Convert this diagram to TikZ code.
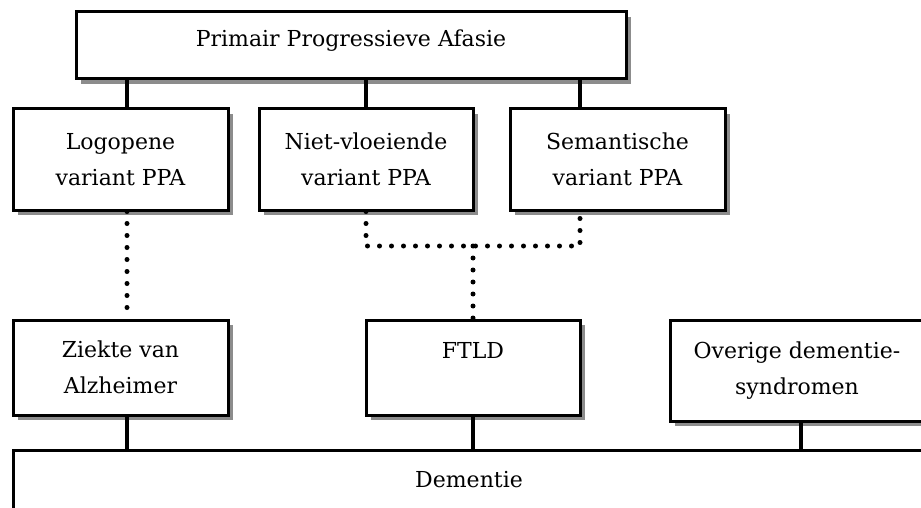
\documentclass[tikz,border=0pt]{standalone}
\usepackage{fontspec}
\setmainfont{DejaVu Serif}
\usetikzlibrary{shadows}

\begin{document}
\begin{tikzpicture}[x=1pt,y=-1pt,
  box/.style={draw,line width=3pt,fill=white,align=center,inner sep=0pt,
    drop shadow={shadow xshift=5pt,shadow yshift=-5pt,fill=black!60,opacity=.75},
    font=\fontsize{22}{36.5}\selectfont},
  link/.style={line width=4pt},
  dots/.style={line width=5pt,line cap=round,dash pattern=on 0pt off 12pt}
  ]
\useasboundingbox (0,0) rectangle (921,508);
\clip (0,0) rectangle (921,508);
\coordinate (colA) at (127,0);
\coordinate (colC) at (580,0);
\coordinate (colE) at (801,0);
\node[box,minimum width=550pt,text height=35pt,text depth=32pt] (ppa) at (351,45.5) {Primair Progressieve Afasie};
\node[box,minimum width=215pt,minimum height=101pt] (lpa) at (120.5,159.5) {Logopene\\variant PPA};
\node[box,minimum width=214pt,minimum height=101pt] (npa) at (366,159.5) {Niet-vloeiende\\variant PPA};
\node[box,minimum width=215pt,minimum height=101pt] (spa) at (617.5,159.5) {Semantische\\variant PPA};
\node[box,minimum width=215pt,minimum height=95pt] (zva) at (120.5,367.5) {Ziekte van\\Alzheimer};
\node[box,minimum width=214pt,text height=38pt,text depth=57pt] (ftld) at (473,367.5) {FTLD};
\node[box,minimum width=254pt,minimum height=101pt] (ovs) at (797,370.5) {Overige dementie-\\syndromen};
\node[box,minimum width=912pt,text height=37pt,text depth=38pt] (dem) at (469,487.5) {Dementie};
\coordinate (jn) at (473,246);
% ppa naar varianten
\draw[link] (ppa.south -| colA) -- (lpa.north -| colA);
\draw[link] (ppa.south -| npa.north) -- (npa.north);
\draw[link] (ppa.south -| colC) -- (spa.north -| colC);
% varianten naar oorzaken
\draw[dots] (lpa.south -| colA) -- (zva.north -| colA);
\draw[dots] (npa.south) |- (jn) -| (spa.south -| colC);
\draw[dots] (jn) -- (ftld.north);
% oorzaken naar dementie
\draw[link] (zva.south -| colA) -- (dem.north -| colA);
\draw[link] (ftld.south) -- (dem.north -| ftld.south);
\draw[link] (ovs.south -| colE) -- (dem.north -| colE);
\end{tikzpicture}
\end{document}
